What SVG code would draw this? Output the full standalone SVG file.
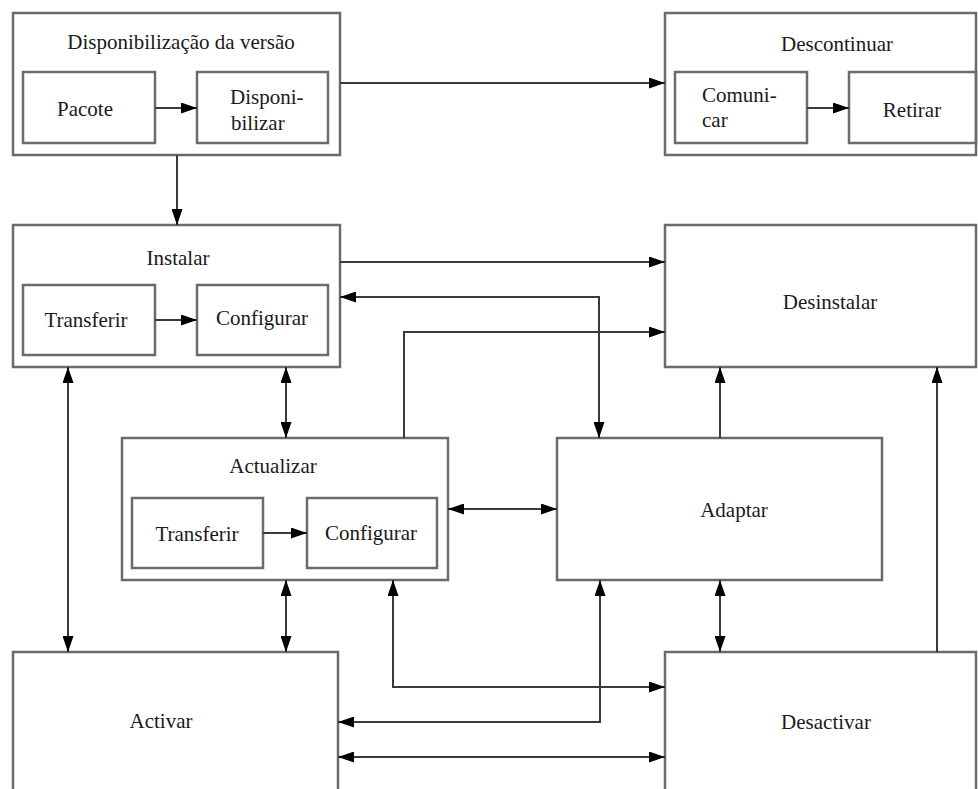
<svg xmlns="http://www.w3.org/2000/svg" width="978" height="789" viewBox="0 0 978 789">
<defs>
<style>
.box{fill:#fff;stroke:#6b6b6b;stroke-width:2.5}
.in{fill:none;stroke:#6b6b6b;stroke-width:2.5}
text{font-family:"Liberation Serif",Tinos,"Times New Roman","DejaVu Serif",serif;font-size:21px;fill:#1a1a1a}
.c{text-anchor:middle}
.ln{fill:none;stroke:#3a3a3a;stroke-width:2}
</style>
<marker id="ah" viewBox="0 0 16 11" refX="16" refY="5.5" markerWidth="16" markerHeight="11" markerUnits="userSpaceOnUse" orient="auto-start-reverse">
<path d="M0,0 L16,5.5 L0,11 Z" fill="#000"/>
</marker>
</defs>
<rect width="978" height="789" fill="#fff"/>

<g id="disponibilizacao">
<rect class="box" x="13" y="13" width="327" height="142"/>
<text class="c" x="181" y="49" font-family="Liberation Serif, serif">Disponibilização da versão</text>
<g id="pacote"><rect class="in" x="23" y="72" width="132" height="71"/><text class="c" x="85" y="116" font-family="Liberation Serif, serif">Pacote</text></g>
<g id="disponibilizar"><rect class="in" x="197" y="72" width="131" height="71"/><text x="230" y="104" font-family="Liberation Serif, serif">Disponi-</text><text x="231" y="130" font-family="Liberation Serif, serif">bilizar</text></g>
</g>

<g id="descontinuar">
<rect class="box" x="665" y="13" width="311" height="142"/>
<text class="c" x="837" y="51" font-family="Liberation Serif, serif">Descontinuar</text>
<g id="comunicar"><rect class="in" x="675" y="72" width="132" height="71"/><text x="702" y="102" font-family="Liberation Serif, serif">Comuni-</text><text x="702" y="127" font-family="Liberation Serif, serif">car</text></g>
<g id="retirar"><rect class="in" x="849" y="72" width="127" height="71"/><text class="c" x="912" y="117" font-family="Liberation Serif, serif">Retirar</text></g>
</g>

<g id="instalar">
<rect class="box" x="13" y="225" width="327" height="142"/>
<text class="c" x="178" y="265" font-family="Liberation Serif, serif">Instalar</text>
<g id="instalar-transferir"><rect class="in" x="23" y="285" width="132" height="70"/><text class="c" x="86" y="327" font-family="Liberation Serif, serif">Transferir</text></g>
<g id="instalar-configurar"><rect class="in" x="197" y="285" width="131" height="70"/><text class="c" x="262" y="325" font-family="Liberation Serif, serif">Configurar</text></g>
</g>

<g id="desinstalar">
<rect class="box" x="665" y="225" width="311" height="142"/>
<text class="c" x="830" y="309" font-family="Liberation Serif, serif">Desinstalar</text>
</g>

<g id="actualizar">
<rect class="box" x="122" y="438" width="326" height="142"/>
<text class="c" x="273" y="473" font-family="Liberation Serif, serif">Actualizar</text>
<g id="actualizar-transferir"><rect class="in" x="132" y="498" width="131" height="70"/><text class="c" x="197" y="541" font-family="Liberation Serif, serif">Transferir</text></g>
<g id="actualizar-configurar"><rect class="in" x="307" y="498" width="130" height="70"/><text class="c" x="371" y="540" font-family="Liberation Serif, serif">Configurar</text></g>
</g>

<g id="adaptar">
<rect class="box" x="557" y="438" width="325" height="142"/>
<text class="c" x="734" y="517" font-family="Liberation Serif, serif">Adaptar</text>
</g>

<g id="activar">
<rect class="box" x="13" y="652" width="325" height="160"/>
<text class="c" x="161" y="728" font-family="Liberation Serif, serif">Activar</text>
</g>

<g id="desactivar">
<rect class="box" x="665" y="652" width="311" height="160"/>
<text class="c" x="826" y="729" font-family="Liberation Serif, serif">Desactivar</text>
</g>

<g id="connectors">
<path class="ln" d="M340,83 H665" marker-end="url(#ah)"/>
<path class="ln" d="M155,108 H197" marker-end="url(#ah)"/>
<path class="ln" d="M807,108 H849" marker-end="url(#ah)"/>
<path class="ln" d="M177,155 V225" marker-end="url(#ah)"/>
<path class="ln" d="M155,320 H197" marker-end="url(#ah)"/>
<path class="ln" d="M340,262 H665" marker-end="url(#ah)"/>
<path class="ln" d="M340,297 H599 V438" marker-start="url(#ah)" marker-end="url(#ah)"/>
<path class="ln" d="M404,438 V332 H665" marker-end="url(#ah)"/>
<path class="ln" d="M68,367 V652" marker-start="url(#ah)" marker-end="url(#ah)"/>
<path class="ln" d="M286,367 V438" marker-start="url(#ah)" marker-end="url(#ah)"/>
<path class="ln" d="M263,533 H307" marker-end="url(#ah)"/>
<path class="ln" d="M448,509 H557" marker-start="url(#ah)" marker-end="url(#ah)"/>
<path class="ln" d="M720,438 V367" marker-end="url(#ah)"/>
<path class="ln" d="M937,652 V367" marker-end="url(#ah)"/>
<path class="ln" d="M286,580 V652" marker-start="url(#ah)" marker-end="url(#ah)"/>
<path class="ln" d="M720,580 V652" marker-start="url(#ah)" marker-end="url(#ah)"/>
<path class="ln" d="M393,580 V687 H665" marker-start="url(#ah)" marker-end="url(#ah)"/>
<path class="ln" d="M600,580 V722 H338" marker-start="url(#ah)" marker-end="url(#ah)"/>
<path class="ln" d="M338,757 H665" marker-start="url(#ah)" marker-end="url(#ah)"/>
</g>
</svg>
